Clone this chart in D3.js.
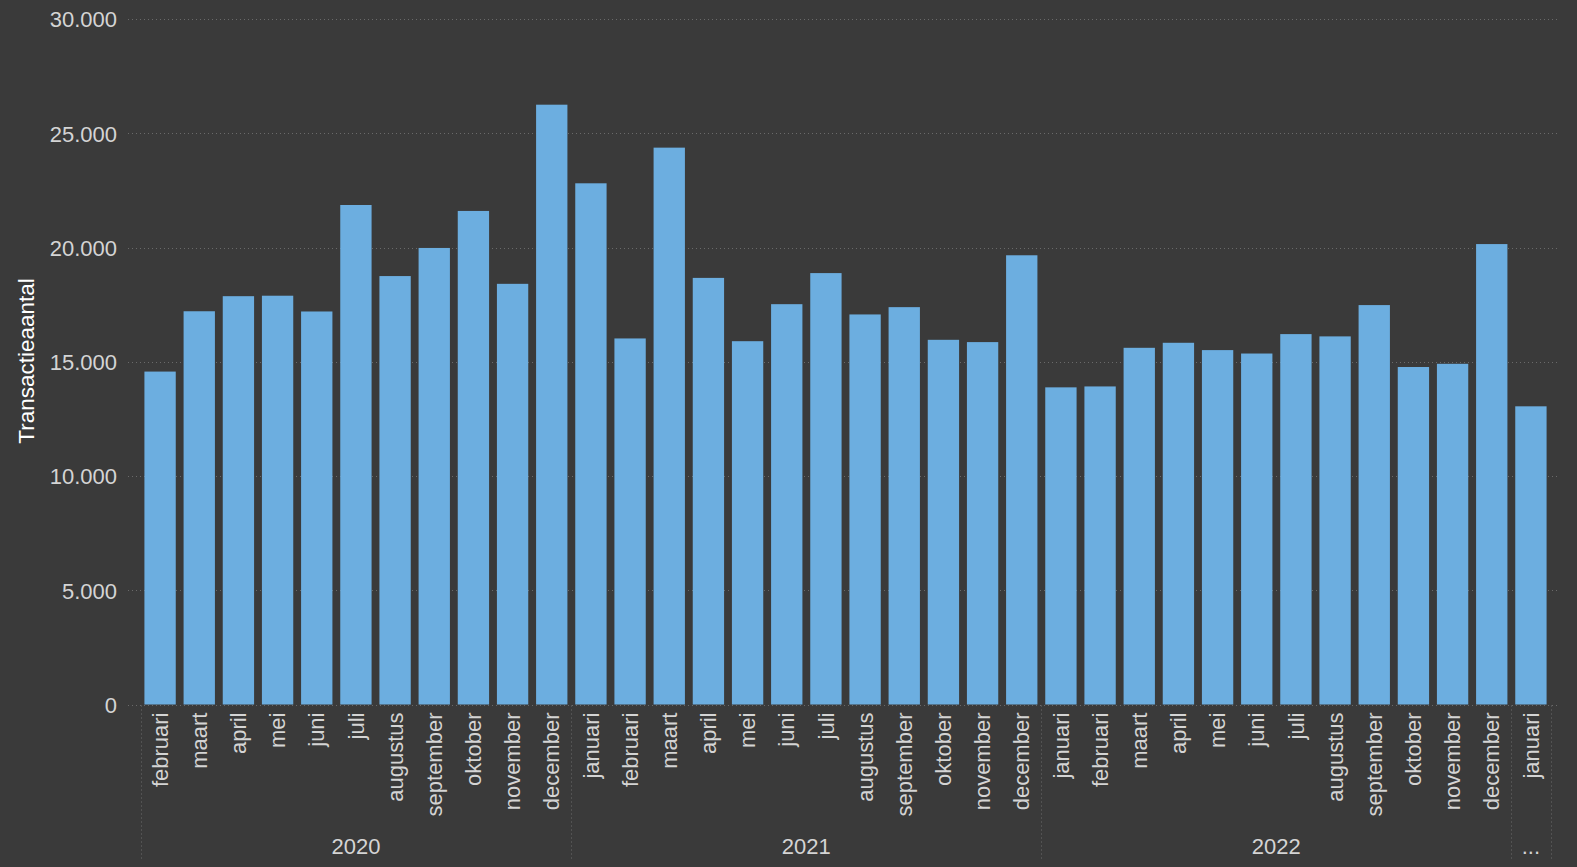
<!DOCTYPE html>
<html>
<head>
<meta charset="utf-8">
<script src="https://cdn.jsdelivr.net/npm/d3@7"></script>
<style>
  html, body { margin: 0; padding: 0; background: #3a3a3a; }
  svg { display: block; }
  text { font-family: "Liberation Sans", Arial, sans-serif; }
</style>
</head>
<body>
<script>
const months = ["februari","maart","april","mei","juni","juli","augustus","september","oktober","november","december",
  "januari","februari","maart","april","mei","juni","juli","augustus","september","oktober","november","december",
  "januari","februari","maart","april","mei","juni","juli","augustus","september","oktober","november","december",
  "januari"];
const years = ["2020","2020","2020","2020","2020","2020","2020","2020","2020","2020","2020",
  "2021","2021","2021","2021","2021","2021","2021","2021","2021","2021","2021","2021",
  "2022","2022","2022","2022","2022","2022","2022","2022","2022","2022","2022","2022",
  "2023"];
const values = [14570, 17210, 17870, 17890, 17200, 21860, 18750, 19980, 21600, 18410, 26250,
  22810, 16020, 24370, 18670, 15900, 17520, 18880, 17070, 17390, 15960, 15860, 19660,
  13880, 13920, 15610, 15830, 15510, 15360, 16210, 16110, 17480, 14770, 14910, 20150,
  13050];
const yearLabels = ["2020","2021","2022","..."];
const yTicks = [0, 5000, 10000, 15000, 20000, 25000, 30000];
const yTitle = "Transactieaantal";

const W = 1577, H = 867;
const svg = d3.select("body").append("svg").attr("width", W).attr("height", H);
svg.append("rect").attr("width", W).attr("height", H).attr("fill", "#3a3a3a");

const x0 = 140.5, x1 = 1550.5, yBase = 704.5, yTop = 19;
const idx = d3.range(values.length);
const x = d3.scaleBand().domain(idx).range([x0, x1]).paddingInner(0.2).paddingOuter(0.1);
const y = d3.scaleLinear().domain([0, 30000]).range([yBase, yTop]);

const fmt = d3.formatLocale({decimal: ",", thousands: ".", grouping: [3], currency: ["€",""]}).format(",d");

// gridlines
svg.append("g").selectAll("line").data(yTicks).join("line")
  .attr("x1", 128).attr("x2", 1560)
  .attr("y1", d => Math.round(y(d)) + 0.5).attr("y2", d => Math.round(y(d)) + 0.5)
  .attr("stroke", "#6a6a6a").attr("stroke-width", 1).attr("stroke-dasharray", "1,3");

// y axis labels
const yAxis = d3.axisLeft(y).tickValues(yTicks).tickFormat(fmt).tickSize(0).tickPadding(0);
const gy = svg.append("g").attr("transform", "translate(117,0)").call(yAxis);
gy.select(".domain").remove();
gy.selectAll("text").attr("fill", "#d4d4d4").attr("font-size", "22px")
  .attr("font-family", "'Liberation Sans', Arial, sans-serif").attr("dy", "0.36em");

// y title
svg.append("text").attr("transform", "translate(34,361) rotate(-90)")
  .attr("text-anchor", "middle").attr("fill", "#ffffff").attr("font-size", "22.5px").text(yTitle);

// bars
svg.append("g").selectAll("rect").data(values).join("rect")
  .attr("x", (d, i) => x(i)).attr("width", x.bandwidth())
  .attr("y", d => y(d)).attr("height", d => y(0) - y(d))
  .attr("fill", "#6caee0");

// month labels
const xAxis = d3.axisBottom(x).tickFormat(i => months[i]).tickSize(0).tickPadding(0);
const gx = svg.append("g").attr("transform", `translate(0,${yBase})`).call(xAxis);
gx.select(".domain").remove();
gx.selectAll("text").attr("fill", "#d4d4d4").attr("font-size", "22px")
  .attr("font-family", "'Liberation Sans', Arial, sans-serif")
  .attr("text-anchor", "end").attr("transform", "rotate(-90)")
  .attr("x", -8).attr("y", 0).attr("dy", "0.35em");

// year groups
const groups = d3.groups(idx, i => years[i]);
const half = x.step() * x.paddingInner() / 2;
const bounds = groups.map(([yr, arr], gi) => {
  const first = arr[0], last = arr[arr.length - 1];
  const left = gi === 0 ? x0 : x(first) - half;
  const right = gi === groups.length - 1 ? x1 : x(last) + x.bandwidth() + half;
  return {label: yearLabels[gi], left, right};
});
const divs = [bounds[0].left, ...bounds.map(b => b.right)];
svg.append("g").selectAll("line").data(divs).join("line")
  .attr("x1", d => Math.round(d) + 0.5).attr("x2", d => Math.round(d) + 0.5)
  .attr("y1", yBase + 1).attr("y2", 860)
  .attr("stroke", "#6a6a6a").attr("stroke-width", 1).attr("stroke-dasharray", "1,3");
svg.append("g").selectAll("text").data(bounds).join("text")
  .attr("x", d => (d.left + d.right) / 2).attr("y", 854)
  .attr("text-anchor", "middle").attr("fill", "#d4d4d4").attr("font-size", "22px")
  .text(d => d.label);
</script>
</body>
</html>
